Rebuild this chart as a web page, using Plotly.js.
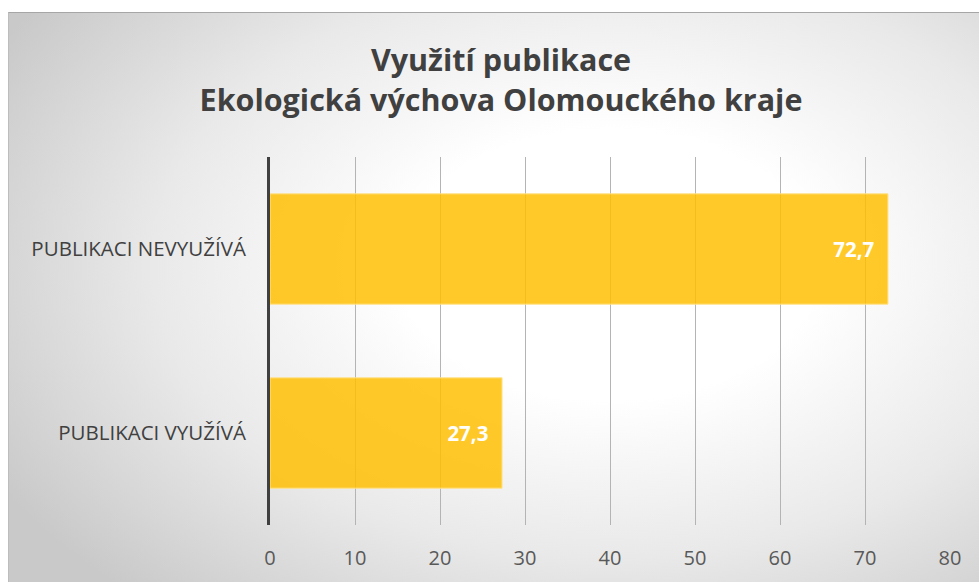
<!DOCTYPE html>
<html>
<head>
<meta charset="utf-8">
<script src="https://cdn.plot.ly/plotly-3.0.1.min.js"></script>
<style>
  html, body { margin:0; padding:0; background:#ffffff; overflow:hidden; }
  #bg { position:absolute; left:8px; top:12px; width:1000px; height:600px;
        border-top:1px solid #a6a6a6; border-left:1px solid #bdbdbd;
        background: radial-gradient(ellipse 70% 75% at 60% 42%, #ffffff 0%, #ffffff 30%, #e9e9e9 65%, #c9c9c9 100%); }
  #chart { position:absolute; left:0; top:0; width:979px; height:582px; }
</style>
</head>
<body>
<div id="bg"></div>
<div id="chart"></div>
<script>
const categories = ["PUBLIKACI VYUŽÍVÁ", "PUBLIKACI NEVYUŽÍVÁ"];
const values = [27.3, 72.7];
const xTicks = [0, 10, 20, 30, 40, 50, 60, 70, 80];
const titleLines = ["Využití publikace", "Ekologická výchova Olomouckého kraje"];

const trace = {
  type: 'bar',
  orientation: 'h',
  y: categories,
  x: values,
  width: 0.6,
  marker: { color: 'rgba(255,192,0,0.84)', line: { color: 'rgba(255,226,140,1)', width: 1 } },
  texttemplate: '%{x:.1f}\u00a0\u00a0',
  textposition: 'inside',
  insidetextanchor: 'end',
  insidetextfont: { family: 'Open Sans, sans-serif', size: 20.5, color: '#ffffff', weight: 'bold' },
  hoverinfo: 'none',
  cliponaxis: false
};

const layout = {
  width: 979, height: 582,
  paper_bgcolor: 'rgba(0,0,0,0)',
  plot_bgcolor: 'rgba(0,0,0,0)',
  separators: ', ',
  margin: { l: 270, r: 29, t: 157, b: 57, pad: 0 },
  showlegend: false,
  title: {
    text: '<b>' + titleLines.join('<br>') + '</b>',
    font: { family: 'Open Sans, sans-serif', size: 30.5, color: '#404040' },
    xref: 'container', x: 501/979, xanchor: 'center',
    yref: 'container', y: 1 - 71/582, yanchor: 'middle'
  },
  xaxis: {
    range: [0, 80],
    tickvals: xTicks,
    ticktext: xTicks.map(String),
    showgrid: true, gridcolor: '#b4b4b4', gridwidth: 1,
    zeroline: false, showline: false, ticks: '',
    ticklabelstandoff: 19,
    tickfont: { family: 'Open Sans, sans-serif', size: 20, color: '#595959' },
    fixedrange: true
  },
  yaxis: {
    type: 'category',
    range: [-0.5, 1.5],
    showgrid: false, zeroline: false,
    showline: true, linecolor: '#404040', linewidth: 3,
    ticks: '', ticklabelstandoff: 17,
    tickfont: { family: 'Open Sans, sans-serif', size: 20.5, color: '#404040' },
    fixedrange: true
  },
  bargap: 0.4
};

Plotly.newPlot('chart', [trace], layout, { staticPlot: true, displayModeBar: false });
</script>
</body>
</html>
